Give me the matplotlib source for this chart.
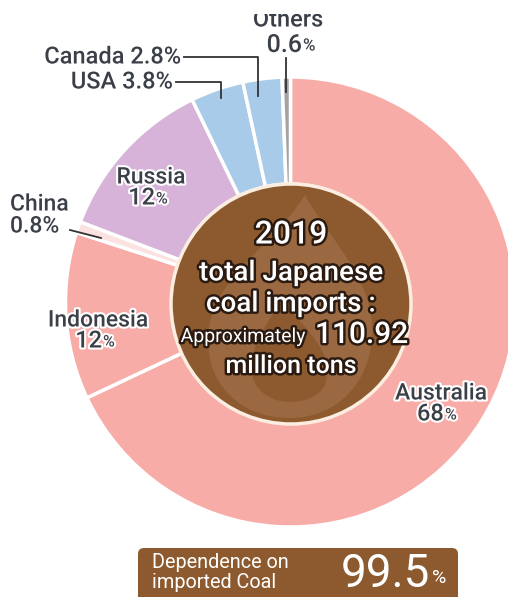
import matplotlib.pyplot as plt
import matplotlib.patheffects as pe
from matplotlib.patches import Circle, FancyBboxPatch, PathPatch, Rectangle
from matplotlib.path import Path

plt.rcParams['font.family'] = ['Roboto', 'DejaVu Sans']

countries = ['Australia', 'Indonesia', 'China', 'Russia', 'USA', 'Canada', 'Others']
shares = [68, 12, 0.8, 12, 3.8, 2.8, 0.6]
share_text = ['68', '12', '0.8', '12', '3.8', '2.8', '0.6']
colors = ['#f7aca7', '#f7aca7', '#fbe2e0', '#d7b2d9', '#a9cbea', '#a9cbea', '#a3a3a3']

year = '2019'
total_mt = '110.92'
dependence = '99.5'

W, H = 508, 597
fig = plt.figure(figsize=(W / 100, H / 100), dpi=100)
ax = fig.add_axes([0, 0, 1, 1])

def Y(y):
    # image pixel row -> data y
    return H - y

cx, cy, R = 290.5, Y(302), 225
ax.pie(shares, colors=colors, startangle=90, counterclock=False,
       radius=R, center=(cx, cy), frame=True,
       wedgeprops=dict(width=R - 118, edgecolor='white', linewidth=2.5))
ax.set_xlim(0, W)
ax.set_ylim(0, H)
ax.set_aspect('equal')
ax.axis('off')

# brown centre disc
ax.add_patch(Circle((291, Y(304)), 120, facecolor='#8c5a2e',
                    edgecolor='#fbeee0', linewidth=2.5, zorder=3))

# faint flame mark in the disc
def flame(pts, codes, color):
    verts = [(x, Y(y)) for x, y in pts]
    ax.add_patch(PathPatch(Path(verts, codes), facecolor=color, edgecolor='none', zorder=3.5))

C = Path.CURVE4
flame([(305, 195), (330, 240), (375, 280), (372, 335), (370, 385), (335, 418), (290, 418),
       (240, 418), (208, 385), (208, 340), (208, 280), (270, 250), (305, 195)],
      [Path.MOVETO] + [C] * 12, '#9a6841')
flame([(282, 300), (305, 330), (335, 350), (325, 385), (315, 405), (272, 410), (256, 385),
       (242, 360), (262, 330), (282, 300)],
      [Path.MOVETO] + [C] * 9, '#8c5a2e')

lab = '#3b3f48'
halo = [pe.withStroke(linewidth=3, foreground='white')]
inner = [pe.withStroke(linewidth=3.5, foreground='#2a1a10')]
fw = 'medium'

def txt(x, y, s, fs, ha='center', color=lab, effects=halo, weight=fw):
    return ax.text(x, y, s, fontsize=fs, color=color, ha=ha, va='center',
                   fontweight=weight, path_effects=effects, zorder=6)

def pct(x, y, num, fs):
    # number followed by a smaller % sign
    txt(x, y, num, fs, ha='right')
    txt(x + 1, y - 1, '%', fs * 0.68, ha='left')

# Australia
txt(441, Y(393), countries[0], 16.5)
pct(444, Y(414), share_text[0], 17)
# Indonesia
txt(98, Y(320), countries[1], 16.5)
pct(102, Y(341), share_text[1], 17)
# Russia
txt(151, Y(177), countries[3], 16.5)
pct(155, Y(198), share_text[3], 17)
# China
txt(10, Y(204), countries[2], 16.5, ha='left')
txt(10, Y(226), share_text[2] + '%', 16.5, ha='left')
ax.plot([70, 101], [Y(230), Y(238)], color='#333333', lw=1.3, zorder=5)
# Canada / USA
txt(181, Y(57), countries[5] + ' ' + share_text[5] + '%', 17, ha='right')
ax.plot([184, 258, 258], [Y(57), Y(57), Y(96)], color='#333333', lw=1.3, zorder=5)
txt(173, Y(82), countries[4] + ' ' + share_text[4] + '%', 17, ha='right')
ax.plot([176, 221, 221], [Y(82), Y(82), Y(98)], color='#333333', lw=1.3, zorder=5)
# Others (top of the label is cropped in the source image)
txt(288, Y(20), countries[6], 17)
pct(302, Y(45), share_text[6], 18)
ax.plot([286, 286], [Y(58), Y(92)], color='#333333', lw=1.3, zorder=5)
ax.add_patch(Rectangle((0, Y(14)), W, 14, facecolor='white', edgecolor='none', zorder=10))

# centre text
txt(291, Y(235), year, 23, color='white', effects=inner)
txt(291, Y(273), 'total Japanese', 20, color='white', effects=inner)
txt(291, Y(304), 'coal imports :', 20, color='white', effects=inner)
txt(306, Y(337), 'Approximately', 14, ha='right', color='white', effects=inner, weight='normal')
txt(315, Y(335), total_mt, 21.5, ha='left', color='white', effects=inner)
txt(291, Y(366), 'million tons', 18, color='white', effects=inner)

# dependence box
ax.add_patch(FancyBboxPatch((138, Y(620)), 320, 72,
                            boxstyle='round,pad=0,rounding_size=6',
                            facecolor='#8c5a2e', edgecolor='none', zorder=4))
txt(152, Y(563), 'Dependence on', 14.3, ha='left', color='white', effects=None, weight='normal')
txt(152, Y(582), 'imported Coal', 14.3, ha='left', color='white', effects=None, weight='normal')
txt(430, Y(574), dependence, 33, ha='right', color='white', effects=None, weight='normal')
txt(432, Y(578), '%', 14, ha='left', color='white', effects=None, weight='normal')

fig.savefig('out.png', dpi=100)
